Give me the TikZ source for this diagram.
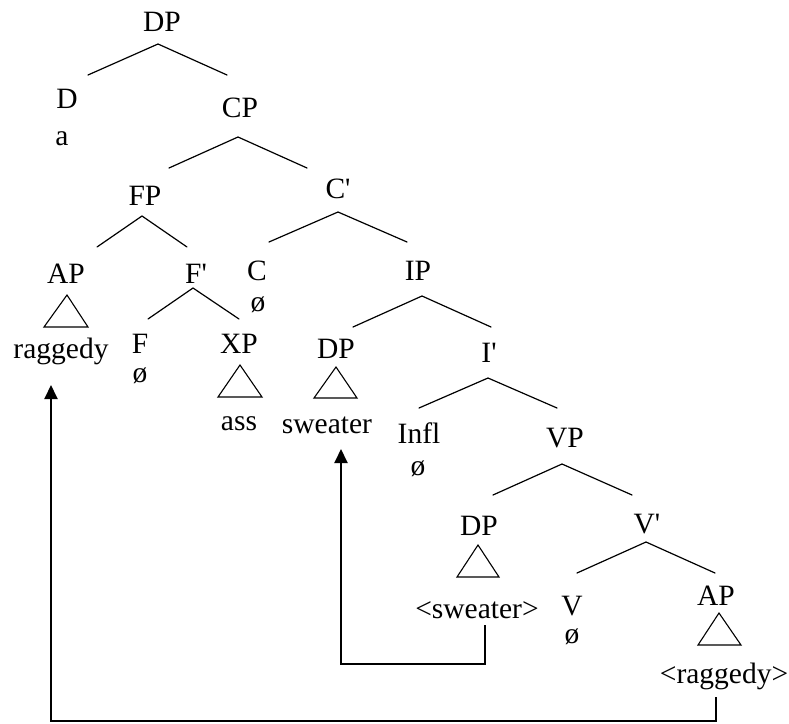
\documentclass[tikz,border=0pt]{standalone}
\usepackage{fontspec}
\setmainfont{Liberation Serif}
\usetikzlibrary{arrows.meta}
\tikzset{>={Triangle[width=13pt,length=14pt]}}
\tikzset{
  lab/.style={anchor=base,inner sep=0pt,font=\fontsize{29.5}{33}\selectfont},
  branch/.style={line width=1.2pt,line cap=round},
  roof/.style={line width=1.1pt,line join=miter},
  move/.style={line width=2pt,->}
}
% a branch: apex, left end, right end
\newcommand{\branch}[4]{%
  \coordinate (#1-a) at (#2);
  \coordinate (#1-l) at (#3);
  \coordinate (#1-r) at (#4);
  \draw[branch] (#1-l) -- (#1-a) -- (#1-r);}
% a triangle: apex, base left, base right
\newcommand{\triroof}[4]{%
  \coordinate (#1-t) at (#2);
  \coordinate (#1-bl) at (#3);
  \coordinate (#1-br) at (#4);
  \draw[roof] (#1-t) -- (#1-bl) -- (#1-br) -- cycle;}
\newcommand{\pr}{\textquotesingle}

\begin{document}
\begin{tikzpicture}[x=1pt,y=-1pt]
\useasboundingbox (0,0) rectangle (789,723);

% labels
\node[lab] (dp) at (162,31) {DP};
\node[lab] (d) at (67,108) {D};
\node[lab] (a) at (62,145) {a};
\node[lab] (cp) at (240,117) {CP};
\node[lab] (fp) at (145,205) {FP};
\node[lab] (cbar) at (338,198) {C\pr};
\node[lab] (ap) at (66,283) {AP};
\node[lab] (fbar) at (196,283) {F\pr};
\node[lab] (c) at (257,280) {C};
\node[lab] (cnull) at (258,311) {ø};
\node[lab] (ip) at (418,280) {IP};
\node[lab] (f) at (140,353) {F};
\node[lab] (fnull) at (140,382) {ø};
\node[lab] (xp) at (239,353) {XP};
\node[lab] (dps) at (336,358) {DP};
\node[lab] (rag) at (61,358) {raggedy};
\node[lab] (ass) at (239,430) {ass};
\node[lab] (sw) at (327,433) {sweater};
\node[lab] (ibar) at (489,362) {I\pr};
\node[lab] (infl) at (419,443) {Infl};
\node[lab] (inull) at (418,475) {ø};
\node[lab] (vp) at (565,447) {VP};
\node[lab] (dpo) at (479,535) {DP};
\node[lab] (vbar) at (647,533) {V\pr};
\node[lab] (swt) at (477,618) {<sweater>};
\node[lab] (v) at (572,615) {V};
\node[lab] (vnull) at (572,643) {ø};
\node[lab] (apv) at (716,605) {AP};
\node[lab] (ragt) at (724,683) {<raggedy>};

% branches
\branch{dp}{158,44}{88,75}{227,75}
\branch{cp}{238,137}{169,168}{307,168}
\branch{fp}{142,216}{97,247}{187,247}
\branch{cbar}{338,212}{269,242}{407,242}
\branch{fbar}{193,288}{148,319}{239,319}
\branch{ip}{422,296}{353,327}{491,327}
\branch{ibar}{488,378}{419,408}{557,408}
\branch{vp}{562,464}{493,495}{632,495}
\branch{vbar}{646,542}{577,573}{715,573}

% triangles
\triroof{ap}{67,295}{44,327}{88,327}
\triroof{xp}{240,365}{218,397}{262,397}
\triroof{dps}{336,367}{314,398}{357,398}
\triroof{dpo}{478,545}{457,577}{499,577}
\triroof{apv}{719,613}{698,645}{741,645}

% movement arrows
\coordinate (swt-foot) at (485,625);
\coordinate (sw-corner) at (341,664);
\coordinate (sw-head) at (341,449);
\draw[move] (swt-foot) |- (sw-corner) -- (sw-head);

\coordinate (ragt-foot) at (716,697);
\coordinate (rag-corner) at (51,721);
\coordinate (rag-head) at (51,385);
\draw[move] (ragt-foot) |- (rag-corner) -- (rag-head);
\end{tikzpicture}
\end{document}
